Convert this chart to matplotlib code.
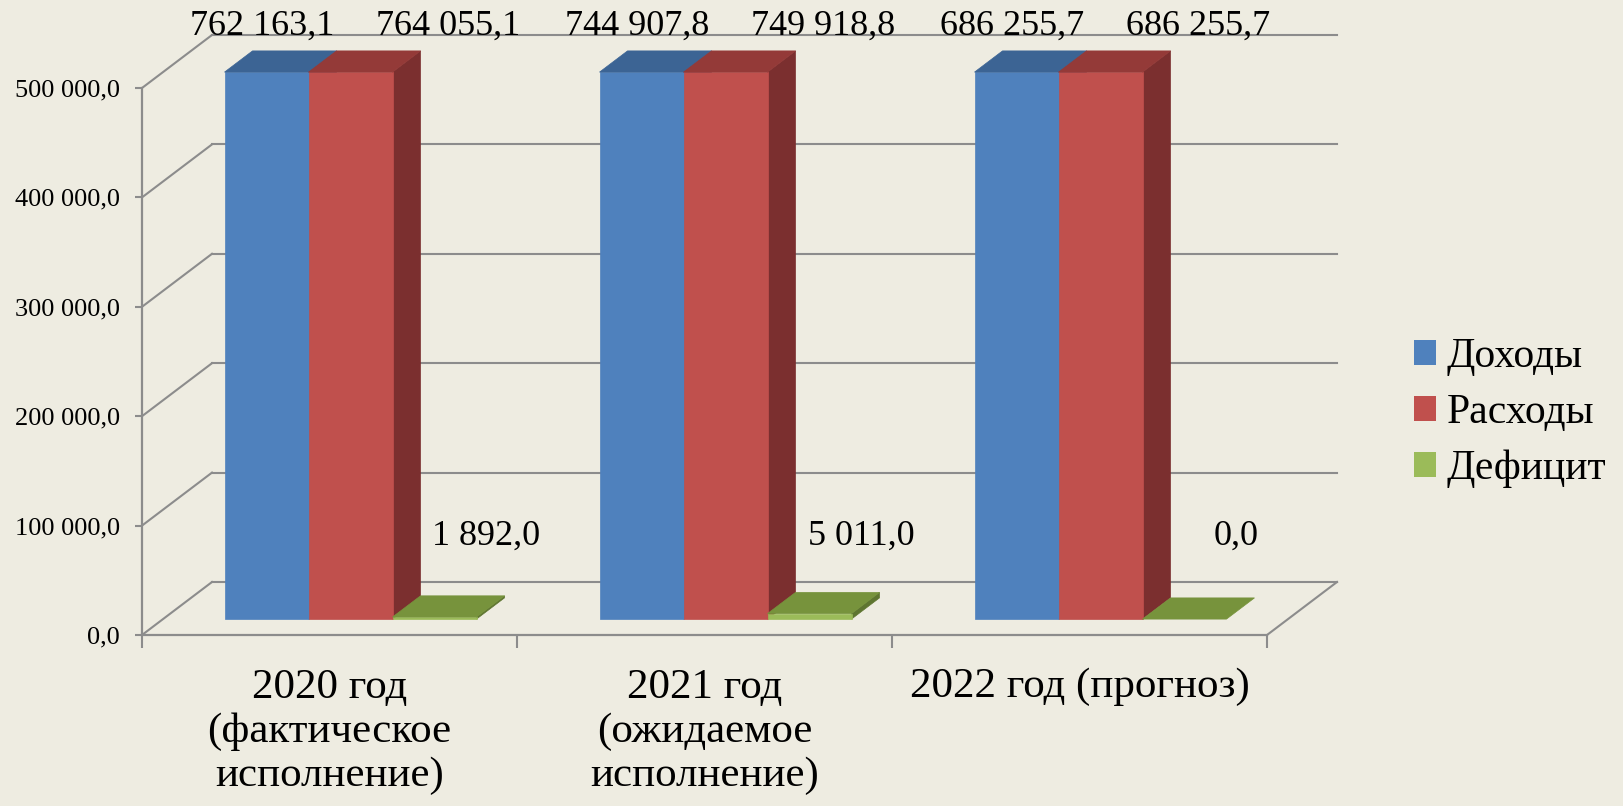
import matplotlib
matplotlib.use('Agg')
import matplotlib.pyplot as plt
from matplotlib.patches import Polygon, Patch

# ---------------- data ----------------
categories = ['2020 год\n(фактическое\nисполнение)',
              '2021 год\n(ожидаемое\nисполнение)',
              '2022 год (прогноз)']
series_names = ['Доходы', 'Расходы', 'Дефицит']
income = [762163.1, 744907.8, 686255.7]
expenses = [764055.1, 749918.8, 686255.7]
deficit = [1892.0, 5011.0, 0.0]
y_ticks = [0, 100000, 200000, 300000, 400000, 500000]
y_tick_labels = ['0,0', '100 000,0', '200 000,0', '300 000,0', '400 000,0', '500 000,0']
y_max = 500000

# ---------------- style ----------------
BG = '#EEECE1'
GRID = '#8C8C8C'
front_cols = ['#4F81BD', '#C0504D', '#9BBB59']
top_cols = ['#3C6494', '#943A38', '#77933C']
side_cols = ['#2E5380', '#7B2F2F', '#5E7530']

plt.rcParams['font.family'] = ['Liberation Serif', 'DejaVu Serif']

W, H = 1623, 806
fig = plt.figure(figsize=(W / 100, H / 100), dpi=100, facecolor=BG)
# front plane of the 3D box (pixels): x 142..1267, y 635(0)..88(500000)
ax = fig.add_axes([142 / W, (H - 635) / H, 1125 / W, 547 / H])
ax.set_xlim(0, 3)
ax.set_ylim(0, y_max)
ax.patch.set_visible(False)

px_x = 1125 / 3.0          # pixels per category unit
px_y = 547 / y_max         # pixels per value unit
DX = 70 / px_x             # depth offset (category units)
DY = 53 / px_y             # depth offset (value units)

for s in ['top', 'right']:
    ax.spines[s].set_visible(False)
for s in ['left', 'bottom']:
    ax.spines[s].set_color(GRID)
    ax.spines[s].set_linewidth(1.6)

# walls / gridlines
for t in y_ticks:
    ax.plot([0, DX], [t, t + DY], color=GRID, lw=1.5, clip_on=False, zorder=1)
    ax.plot([DX, 3 + DX], [t + DY, t + DY], color=GRID, lw=1.5, clip_on=False, zorder=1)
ax.plot([3, 3 + DX], [0, DY], color=GRID, lw=1.5, clip_on=False, zorder=1)

# ticks
ax.set_yticks(y_ticks)
ax.set_yticklabels(y_tick_labels, fontsize=19)
ax.tick_params(axis='y', length=5, width=1.5, color=GRID, pad=11, labelcolor='black')
ax.set_xticks([])
ax.set_xticks([0, 1, 2, 3], minor=True)
ax.tick_params(axis='x', which='minor', length=9, width=1.5, color=GRID)

# bars
bw = 0.224
gap = (1 - 3 * bw) / 2
series = [income, expenses, deficit]
for i in range(3):
    for k, vals in enumerate(series):
        v = min(vals[i], y_max)
        x0 = i + gap + k * bw + 0.3 * DX
        x1 = x0 + bw
        yb = 0.3 * DY
        yt = v + yb
        ddx, ddy = 0.4 * DX, 0.4 * DY
        z = 3 + i * 3 + k
        if v > 0:
            ax.add_patch(Polygon([(x1, yb), (x1 + ddx, yb + ddy), (x1 + ddx, yt + ddy), (x1, yt)],
                                 closed=True, facecolor=side_cols[k], edgecolor=side_cols[k],
                                 lw=0.5, clip_on=False, zorder=z))
            ax.add_patch(Polygon([(x0, yb), (x1, yb), (x1, yt), (x0, yt)],
                                 closed=True, facecolor=front_cols[k], edgecolor=front_cols[k],
                                 lw=0.5, clip_on=False, zorder=z))
        ax.add_patch(Polygon([(x0, yt), (x1, yt), (x1 + ddx, yt + ddy), (x0 + ddx, yt + ddy)],
                             closed=True, facecolor=top_cols[k], edgecolor=top_cols[k],
                             lw=0.5, clip_on=False, zorder=z))

# value labels
def fmt(v):
    return f"{v:,.1f}".replace(',', ' ').replace('.', ',')

label_dx = [0.32, 0.816, 0.917]           # horizontal position inside category
top_base = (635 - 35) / px_y               # baseline of top labels
low_base = (635 - 545) / px_y              # baseline of deficit labels
for i in range(3):
    ax.text(i + label_dx[0], top_base, fmt(income[i]), ha='center', va='baseline',
            fontsize=26, clip_on=False, zorder=20)
    ax.text(i + label_dx[1], top_base, fmt(expenses[i]), ha='center', va='baseline',
            fontsize=26, clip_on=False, zorder=20)
    ax.text(i + label_dx[2], low_base, fmt(deficit[i]), ha='center', va='baseline',
            fontsize=26, clip_on=False, zorder=20)

# category labels
for i, c in enumerate(categories):
    ax.text(i + 0.5, -(668 - 635) / px_y, c, ha='center', va='top', fontsize=31,
            linespacing=1.2, multialignment='center', clip_on=False)

# legend
handles = [Patch(facecolor=front_cols[k], edgecolor='none') for k in range(3)]
fig.legend(handles, series_names, loc='center left',
           bbox_to_anchor=(1414 / W, 1 - 413 / H), bbox_transform=fig.transFigure,
           frameon=False, fontsize=30, handlelength=0.53, handleheight=0.53,
           handletextpad=0.26, labelspacing=0.42, borderpad=0, borderaxespad=0)

fig.savefig('out.png', dpi=100, facecolor=BG)
